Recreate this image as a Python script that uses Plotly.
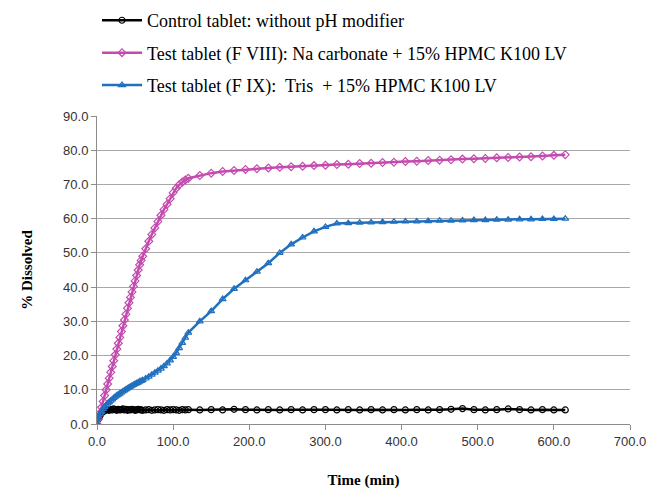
import plotly.graph_objects as go

time_min = [0, 2, 4, 6, 8, 10, 12, 14, 16, 18, 20, 22, 24, 26, 28, 30, 32, 34, 36, 38, 40,
            42, 44, 46, 48, 50, 52, 54, 56, 58, 60,
            64, 68, 72, 76, 80, 84, 88, 92, 96, 100, 104, 108, 112, 116, 120,
            135, 150, 165, 180, 195, 210, 225, 240, 255, 270, 285, 300, 315, 330, 345, 360,
            375, 390, 405, 420, 435, 450, 465, 480, 495, 510, 525, 540, 555, 570, 585, 600, 615]

control = [0, 1.5, 2.5, 3.2, 3.6, 3.9, 4.1, 4.2, 4.0, 4.3, 4.1, 4.4, 4.2, 4.0, 4.3, 4.1, 4.2,
           4.4, 4.1, 4.3, 4.0, 4.2, 4.1, 4.3, 4.2, 4.0, 4.1, 4.3, 4.2, 4.1, 4.0,
           4.1, 4.2, 4.0, 4.1, 4.2, 4.1, 4.0, 4.2, 4.1, 4.2, 4.1, 4.0, 4.2, 4.1, 4.2,
           4.1, 4.2, 4.1, 4.3, 4.2, 4.1, 4.2, 4.1, 4.2, 4.1, 4.2, 4.2, 4.1, 4.2, 4.1, 4.2,
           4.1, 4.2, 4.1, 4.2, 4.1, 4.2, 4.3, 4.5, 4.2, 4.1, 4.2, 4.4, 4.2, 4.1, 4.2, 4.1, 4.1]

f_viii = [0, 1.5, 3.2, 4.9, 6.6, 8.3, 10.0, 11.7, 13.4, 15.1, 16.8, 18.5, 20.2, 21.9, 23.6,
          25.3, 27.0, 28.7, 30.4, 32.1, 33.8, 35.4, 37.0, 38.6, 40.2, 41.8, 43.4, 45.0, 46.5,
          47.8, 49.0,
          51.2, 53.4, 55.4, 57.3, 59.2, 61.0, 62.7, 64.2, 65.8, 67.6, 68.9, 69.9, 70.7, 71.3, 71.8,
          72.6, 73.3, 73.8, 74.1, 74.4, 74.6, 74.8, 75.0, 75.2, 75.3, 75.5, 75.6, 75.8, 75.9,
          76.1, 76.2, 76.4, 76.5, 76.7, 76.8, 77.0, 77.1, 77.2, 77.4, 77.5, 77.6, 77.8, 77.9,
          78.0, 78.1, 78.3, 78.5, 78.7]

f_ix = [0, 1.8, 2.9, 3.7, 4.4, 5.0, 5.5, 6.0, 6.4, 6.8, 7.2, 7.6, 8.0, 8.3, 8.6, 8.9, 9.2,
        9.5, 9.8, 10.1, 10.4, 10.7, 10.9, 11.2, 11.4, 11.7, 11.9, 12.1, 12.4, 12.6, 12.8,
        13.3, 13.8, 14.4, 15.0, 15.6, 16.2, 16.9, 17.7, 18.6, 19.6, 20.8, 22.2, 23.7, 25.2, 26.7,
        30.0, 33.0, 36.5, 39.5, 42.0, 44.5, 47.0, 50.0, 52.5, 54.5, 56.3, 57.6, 58.6, 58.7,
        58.8, 58.9, 59.0, 59.1, 59.2, 59.2, 59.3, 59.4, 59.4, 59.5, 59.6, 59.6, 59.7, 59.7,
        59.8, 59.8, 59.9, 59.9, 60.0]

names = ["Control tablet: without pH modifier",
         "Test tablet (F VIII): Na carbonate + 15% HPMC K100 LV",
         "Test tablet (F IX):  Tris  + 15% HPMC K100 LV"]
colors = ["#000000", "#C44BAE", "#2170BF"]
symbols = ["circle-open", "diamond-open", "triangle-up-open"]
series = [control, f_viii, f_ix]

fig = go.Figure()
for i, (nm, col, sym, vals) in enumerate(zip(names, colors, symbols, series)):
    fig.add_trace(go.Scatter(
        x=time_min, y=vals, name=nm, mode="lines+markers",
        line=dict(color=col, width=2.5),
        marker=dict(symbol=sym, size=6, color=col, line=dict(width=1.2, color=col)),
        legendgroup=f"g{i}",
    ))

serif = "Liberation Serif, Times New Roman, serif"
sans = "Liberation Sans, Arial, sans-serif"

# page body has an 8px default margin, so the figure is sized/offset to compensate
fig.update_layout(
    width=646, height=483,
    margin=dict(l=89, r=24, t=108, b=67, autoexpand=False),
    paper_bgcolor="white", plot_bgcolor="white",
    showlegend=True,
    legend=dict(
        x=0.0, y=1.37, xanchor="left", yanchor="top",
        orientation="v", traceorder="grouped", tracegroupgap=6,
        font=dict(family=serif, size=18, color="#000"),
        bgcolor="rgba(0,0,0,0)", itemwidth=40,
    ),
    xaxis=dict(
        range=[0, 700], tickvals=[0, 100, 200, 300, 400, 500, 600, 700],
        ticktext=["0.0", "100.0", "200.0", "300.0", "400.0", "500.0", "600.0", "700.0"],
        showgrid=False, zeroline=False, automargin=False,
        showline=True, linecolor="#8c8c8c", linewidth=1,
        ticks="outside", ticklen=5, tickcolor="#8c8c8c",
        tickfont=dict(family=sans, size=13, color="#333"),
        title=dict(text="<b>Time (min)</b>", font=dict(family=serif, size=15, color="#000"),
                   standoff=26),
    ),
    yaxis=dict(
        range=[0, 90], tickvals=[0, 10, 20, 30, 40, 50, 60, 70, 80, 90],
        ticktext=["0.0", "10.0", "20.0", "30.0", "40.0", "50.0", "60.0", "70.0", "80.0", "90.0"],
        showgrid=True, gridcolor="#a8a8a8", gridwidth=1, zeroline=False, automargin=False,
        showline=True, linecolor="#8c8c8c", linewidth=1,
        ticks="outside", ticklen=5, tickcolor="#8c8c8c",
        tickfont=dict(family=sans, size=13, color="#333"),
        title=dict(text="<b>% Dissolved</b>", font=dict(family=serif, size=15, color="#000"),
                   standoff=26),
    ),
)

fig.write_html("out.html")
